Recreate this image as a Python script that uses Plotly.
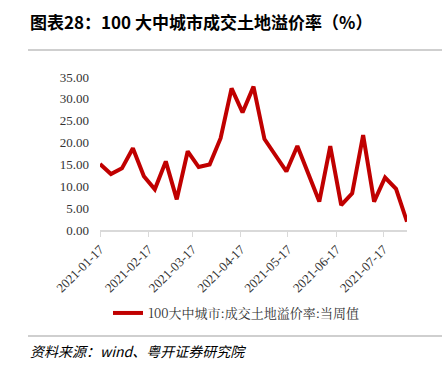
import plotly.graph_objects as go
import pandas as pd

dates = pd.date_range("2021-01-17", periods=29, freq="7D").strftime("%Y-%m-%d").tolist()
values = [15.1, 12.8, 14.1, 18.7, 12.3, 9.3, 15.7, 7.0, 18.0, 14.4, 15.0, 21.0,
          32.4, 26.9, 32.8, 20.8, 17.1, 13.4, 19.2, 12.9, 6.5, 19.2, 5.7, 8.4,
          21.7, 6.5, 12.0, 9.4, 1.9]
tick_dates = ["2021-01-17", "2021-02-17", "2021-03-17", "2021-04-17",
              "2021-05-17", "2021-06-17", "2021-07-17"]
series_name = "100大中城市:成交土地溢价率:当周值"
title_text = "图表28：100 大中城市成交土地溢价率（%）"
source_text = "资料来源：wind、粤开证券研究院"

W, H = 447, 371
ml, mr, mt, mb = 100, 40, 77, 141

fig = go.Figure()
fig.add_trace(go.Scatter(x=dates, y=values, mode="lines", name=series_name,
                         line=dict(color="#C00000", width=4)))

serif = "Liberation Serif, DejaVu Serif, serif"
cjk = "Noto Sans CJK SC, sans-serif"

fig.update_layout(
    width=W, height=H,
    margin=dict(l=ml, r=mr, t=mt, b=mb, pad=0, autoexpand=False),
    paper_bgcolor="white", plot_bgcolor="white",
    showlegend=True,
    legend=dict(orientation="h", x=(108 - ml) / (W - ml - mr), y=-(313 - (H - mb)) / (H - mt - mb),
                xanchor="left", yanchor="middle",
                font=dict(family="Noto Serif CJK SC, " + cjk, size=13, color="#333333"),
                itemwidth=30, bgcolor="rgba(0,0,0,0)"),
    xaxis=dict(type="date", range=[dates[0], dates[-1]], automargin=False,
               tickmode="array", tickvals=tick_dates, ticktext=tick_dates,
               tickangle=-45, tickfont=dict(family=serif, size=13, color="#333333"),
               showgrid=False, showline=True, linecolor="#d9d9d9", linewidth=1.5,
               ticks="outside", ticklen=5, tickcolor="#d9d9d9", zeroline=False),
    yaxis=dict(range=[0, 35], dtick=5, tickformat=".2f", automargin=False,
               tickfont=dict(family=serif, size=13, color="#333333"),
               showgrid=False, showline=False, zeroline=False, ticks="", ticklabelstandoff=10),
)

fig.add_annotation(text="<b>" + title_text + "</b>", xref="paper", yref="paper",
                   x=(28 - ml) / (W - ml - mr), y=1 + (mt - 22) / (H - mt - mb),
                   xanchor="left", yanchor="middle", showarrow=False,
                   font=dict(family=cjk, size=17, color="#000000"))
fig.add_annotation(text="<i>" + source_text + "</i>", xref="paper", yref="paper",
                   x=(28 - ml) / (W - ml - mr), y=-(351 - (H - mb)) / (H - mt - mb),
                   xanchor="left", yanchor="middle", showarrow=False,
                   font=dict(family=cjk, size=14, color="#000000"))

def px_x(p):
    return (p - ml) / (W - ml - mr)

def px_y(p):
    return (H - mb - p) / (H - mt - mb)

for yy in (50, 336):
    fig.add_shape(type="line", xref="paper", yref="paper",
                  x0=px_x(28), x1=px_x(442), y0=px_y(yy), y1=px_y(yy),
                  line=dict(color="#bfbfbf", width=1.5))

fig.write_html("out.html", config={"displayModeBar": False},
               post_script="document.body.style.margin='0px';document.body.style.overflow='hidden';")
